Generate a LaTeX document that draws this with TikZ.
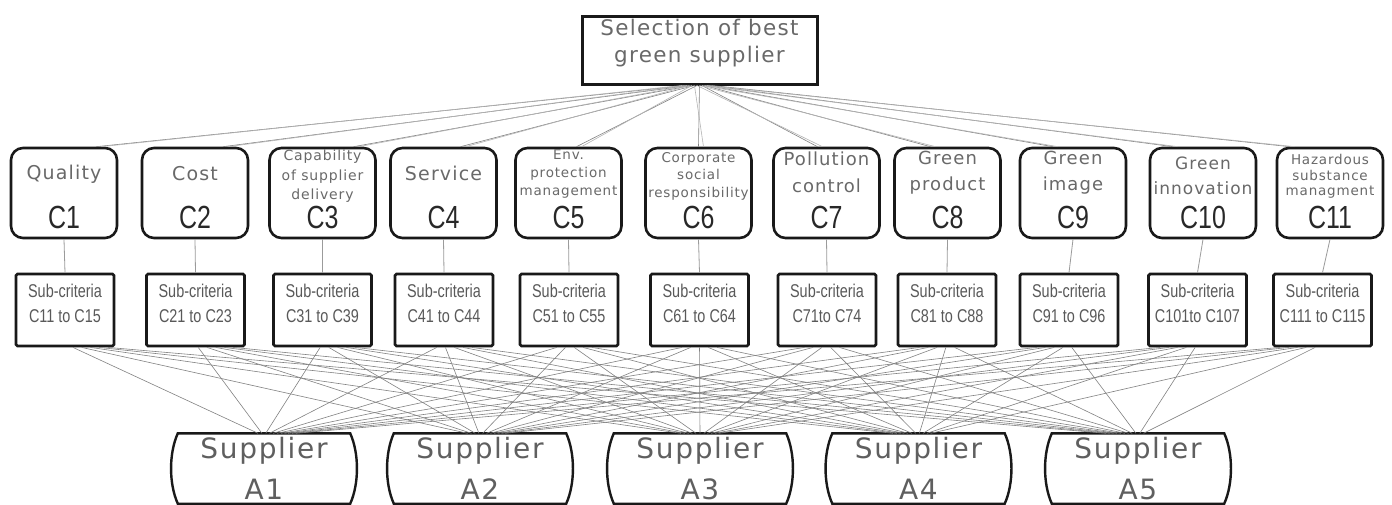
\documentclass[tikz,border=0pt]{standalone}
\usepackage{fontspec}
\usetikzlibrary{calc}
\newfontfamily\widefont[LetterSpace=6]{DejaVu Sans}
\newfontfamily\narrowfont[FakeStretch=0.78]{Liberation Sans}
\newcommand\wfs[2]{\widefont\fontsize{#1}{#2}\selectfont}
\newcommand\nfs[2]{\narrowfont\fontsize{#1}{#2}\selectfont}
\definecolor{labelgrey}{RGB}{105,105,105}
\definecolor{codegrey}{RGB}{40,40,40}
\definecolor{edgegrey}{RGB}{130,130,130}
\definecolor{boxline}{RGB}{25,25,25}
\tikzset{
  critbox/.style={draw=boxline, line width=2.6pt, rounded corners=12pt,
    minimum width=106pt, minimum height=90pt, inner sep=0pt},
  subbox/.style={draw=boxline, line width=2.8pt, rounded corners=1.5pt,
    minimum width=98pt, minimum height=72pt, inner sep=0pt},
  topbox/.style={draw=boxline, line width=3pt,
    minimum width=235pt, minimum height=68pt, inner sep=0pt},
  suppbox/.style={minimum width=172pt, minimum height=70pt, inner sep=0pt},
  suppline/.style={draw=boxline, line width=2.4pt},
  crittext/.style={text=labelgrey, inner sep=0pt, anchor=mid},
  codetext/.style={text=codegrey, inner sep=0pt, anchor=base,
    font=\nfs{32}{32}},
  subtext/.style={text=labelgrey!85!black, inner sep=0pt, anchor=mid,
    font=\nfs{18.5}{20}},
  supptext/.style={text=labelgrey!90!black, inner sep=0pt, anchor=mid,
    font=\wfs{28}{30}},
  toplink/.style={draw=edgegrey, line width=0.6pt},
  sublink/.style={draw=edgegrey!80, line width=0.8pt},
  botlink/.style={draw=edgegrey, line width=0.6pt},
}
\begin{document}
\begin{tikzpicture}[x=1pt, y=-1pt]
\fill[white] (0,0) rectangle (1392,504);
\useasboundingbox (0,0) rectangle (1392,504);

% goal
\node[topbox] (top) at (699.5,50) {};
\node[crittext, font=\wfs{21.5}{27}] (topA) at (699.5,33) {Selection of best};
\node[crittext, font=\wfs{21.5}{27}] (topB) at (699.5,60) {green supplier};

% criteria boxes and their codes
\foreach \i/\x in {1/64, 2/195, 3/322.5, 4/443.5, 5/568.5, 6/698.5,
                   7/826.5, 8/947.5, 9/1073, 10/1203, 11/1330} {
  \node[critbox] (c\i) at (\x,193) {};
  \node[codetext] (k\i) at (\x,228) {C\i};
}

% criteria names
\node[crittext, font=\wfs{19}{22}] (n1) at (64,177) {Quality};
\node[crittext, font=\wfs{19}{22}] (n2) at (195,178) {Cost};
\node[crittext, font=\wfs{14}{16}] (n3a) at (322.5,158) {Capability};
\node[crittext, font=\wfs{14}{16}] (n3b) at (322.5,178) {of supplier};
\node[crittext, font=\wfs{14}{16}] (n3c) at (322.5,197) {delivery};
\node[crittext, font=\wfs{19}{22}] (n4) at (443.5,178) {Service};
\node[crittext, font=\wfs{13.5}{16}] (n5a) at (568.5,157) {Env.};
\node[crittext, font=\wfs{13.5}{16}] (n5b) at (568.5,175) {protection};
\node[crittext, font=\wfs{13.5}{16}] (n5c) at (568.5,193) {management};
\node[crittext, font=\wfs{13.5}{16}] (n6a) at (698.5,160) {Corporate};
\node[crittext, font=\wfs{13.5}{16}] (n6b) at (698.5,177) {social};
\node[crittext, font=\wfs{13.5}{16}] (n6c) at (698.5,195) {responsibility};
\node[crittext, font=\wfs{18}{22}] (n7a) at (826.5,163) {Pollution};
\node[crittext, font=\wfs{18}{22}] (n7b) at (826.5,190) {control};
\node[crittext, font=\wfs{18}{22}] (n8a) at (947.5,162) {Green};
\node[crittext, font=\wfs{18}{22}] (n8b) at (947.5,188) {product};
\node[crittext, font=\wfs{18}{22}] (n9a) at (1073,162) {Green};
\node[crittext, font=\wfs{18}{22}] (n9b) at (1073,188) {image};
\node[crittext, font=\wfs{17}{20}] (n10a) at (1203,167) {Green};
\node[crittext, font=\wfs{17}{20}] (n10b) at (1203,192) {innovation};
\node[crittext, font=\wfs{13.5}{16}] (n11a) at (1330,162) {Hazardous};
\node[crittext, font=\wfs{13.5}{16}] (n11b) at (1330,178) {substance};
\node[crittext, font=\wfs{13.5}{16}] (n11c) at (1330,193) {managment};

% sub-criteria boxes
\foreach \i/\x/\lab in {1/65/C11 to C15, 2/195.5/C21 to C23, 3/322.5/C31 to C39,
    4/444/C41 to C44, 5/569/C51 to C55, 6/699.5/C61 to C64, 7/827/C71to C74,
    8/947/C81 to C88, 9/1069/C91 to C96, 10/1197.5/C101to C107,
    11/1322.5/C111 to C115} {
  \node[subbox] (s\i) at (\x,310) {};
  \node[subtext] (sa\i) at (\x,295) {Sub-criteria};
  \node[subtext] (sb\i) at (\x,320) {\lab};
}

% alternatives
\foreach \j/\x in {1/264, 2/480, 3/700, 4/918.5, 5/1138} {
  \node[suppbox] (a\j) at (\x,468.5) {};
  \draw[suppline] (a\j.north west) -- (a\j.north east)
    .. controls ($(a\j.north east)+(9,20)$) and ($(a\j.south east)+(9,-20)$) .. (a\j.south east)
    -- (a\j.south west)
    .. controls ($(a\j.south west)+(-9,-20)$) and ($(a\j.north west)+(-9,20)$) .. cycle;
  \node[supptext] (sp\j) at (\x,456) {Supplier};
  \node[supptext] (al\j) at (\x,497) {A\j};
}

% goal to criteria
\foreach \i/\x/\d in {1/64/32, 2/195/28, 3/322.5/31, 4/443.5/17, 5/568.5/8,
    6/698.5/0, 7/826.5/-9, 8/947.5/-17, 9/1073/-20, 10/1203/-30, 11/1330/-40} {
  \draw[toplink] ($(top.south)+({(\x-700)*0.02},0)$) -- ($(c\i.north)+(\d,0)$);
  \draw[toplink, draw=edgegrey!60] ($(top.south)+({(\x-700)*0.02-5},0)$) -- ($(c\i.north)+(\d+5,0)$);
}

% criteria to sub-criteria
\foreach \i in {1,...,11} {
  \draw[sublink] (c\i.south) -- (s\i.north);
}

% sub-criteria to alternatives
\foreach \i/\sx in {1/65, 2/195.5, 3/322.5, 4/444, 5/569, 6/699.5, 7/827,
                    8/947, 9/1069, 10/1197.5, 11/1322.5} {
  \foreach \j/\ax in {1/264, 2/480, 3/700, 4/918.5, 5/1138} {
    \draw[botlink] ($(s\i.south)+({(\ax-\sx)*0.04},0)$)
      -- ($(a\j.north)+({(\sx-\ax)*0.03},0)$);
  }
}
\end{tikzpicture}
\end{document}
